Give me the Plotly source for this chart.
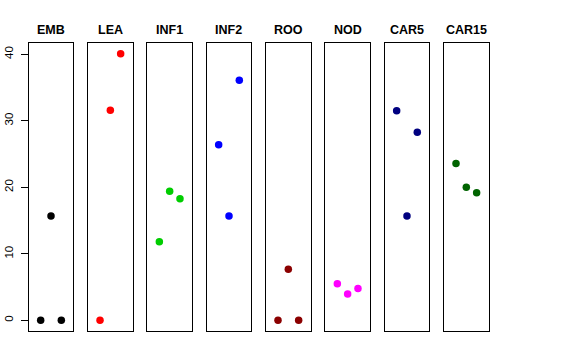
import plotly.graph_objects as go

categories = ["EMB", "LEA", "INF1", "INF2", "ROO", "NOD", "CAR5", "CAR15"]
x_pos = [1, 2, 3]
emb = [0.0, 15.7, 0.0]
lea = [0.0, 31.6, 40.1]
inf1 = [11.8, 19.4, 18.3]
inf2 = [26.4, 15.7, 36.1]
roo = [0.0, 7.7, 0.0]
nod = [5.5, 3.95, 4.8]
car5 = [31.5, 15.7, 28.3]
car15 = [23.6, 20.0, 19.2]
series = [emb, lea, inf1, inf2, roo, nod, car5, car15]
colors = ["#000000", "#FF0000", "#00CD00", "#0000FF", "#8B0000", "#FF00FF", "#000080", "#006400"]
y_ticks = [0, 10, 20, 30, 40]

W, H = 576, 360
left0, pw, step = 28.7, 44.6, 59.33
top_px, bot_px = 43, 331

fig = go.Figure()
layout = dict(
    width=W, height=H, margin=dict(l=0, r=0, t=0, b=0, autoexpand=False),
    plot_bgcolor="white", paper_bgcolor="white", showlegend=False,
    font=dict(family="Liberation Sans, Arial, sans-serif", color="black"),
)
annotations = []
for i, (cat, vals, col) in enumerate(zip(categories, series, colors)):
    n = "" if i == 0 else str(i + 1)
    fig.add_trace(go.Scatter(x=x_pos, y=vals, mode="markers",
                             marker=dict(color=col, size=7.5),
                             xaxis="x" + n, yaxis="y" + n, hoverinfo="skip"))
    x0 = (left0 + i * step) / W
    x1 = (left0 + i * step + pw) / W
    layout["xaxis" + n] = dict(domain=[x0, x1], range=[-0.16, 4.16], showgrid=False,
                               zeroline=False, showticklabels=False, ticks="",
                               showline=True, mirror=True, linecolor="black", linewidth=1,
                               anchor="y" + n, automargin=False)
    ya = dict(domain=[1 - bot_px / H, 1 - top_px / H], range=[-1.6, 41.7], showgrid=False,
              zeroline=False, showline=True, mirror=True, linecolor="black", linewidth=1,
              anchor="x" + n, automargin=False)
    if i == 0:
        ya.update(tickvals=y_ticks, ticks="outside", ticklen=7, tickcolor="black",
                  tickangle=-90, tickfont=dict(size=11.5), ticklabelstandoff=3)
    else:
        ya.update(showticklabels=False, ticks="")
    layout["yaxis" + n] = ya
    annotations.append(dict(text="<b>" + cat + "</b>", x=(x0 + x1) / 2, y=1 - 30 / H,
                            xref="paper", yref="paper", showarrow=False,
                            font=dict(size=12.5), xanchor="center", yanchor="middle"))
layout["annotations"] = annotations
fig.update_layout(**layout)
fig.write_html("out.html", post_script="document.body.style.margin='0';",
               config={"displayModeBar": False})
